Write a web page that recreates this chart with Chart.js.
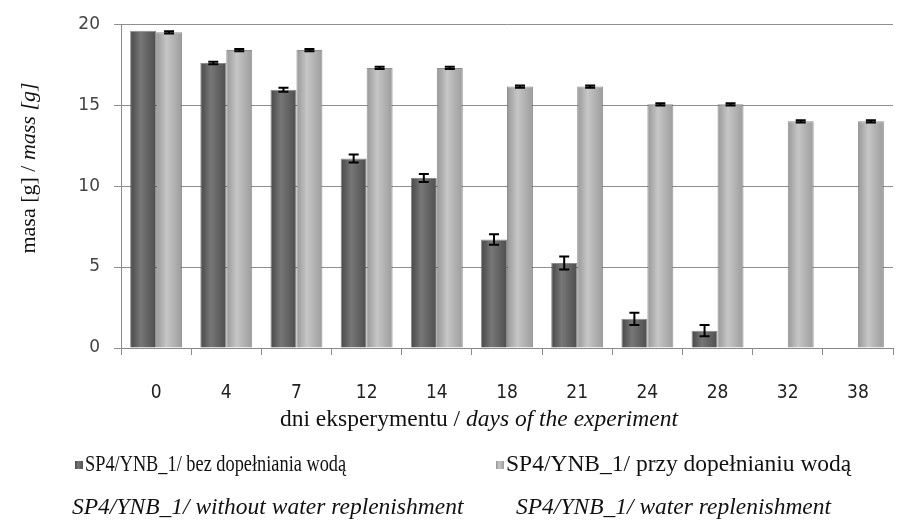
<!DOCTYPE html>
<html>
<head>
<meta charset="utf-8">
<script src="https://cdn.jsdelivr.net/npm/chart.js@4.4.1/dist/chart.umd.min.js"></script>
<style>
  html, body { margin: 0; padding: 0; background: #fff; overflow: hidden; }
  canvas { display: block; }
</style>
</head>
<body>
<canvas id="massChart" width="898" height="521"></canvas>
<script>
// days of the experiment
const days = ['0', '4', '7', '12', '14', '18', '21', '24', '28', '32', '38'];

// mass [g] without water replenishment, with error
const massNoWater = [19.6, 17.6, 15.95, 11.7, 10.5, 6.7, 5.25, 1.8, 1.07, 0, 0];
const errNoWater = [0, 0.08, 0.12, 0.25, 0.25, 0.33, 0.4, 0.38, 0.35, 0, 0];

// mass [g] with water replenishment, with error
const massWater = [19.5, 18.4, 18.4, 17.3, 17.3, 16.15, 16.15, 15.05, 15.05, 14.0, 14.0];
const errWater = [0.07, 0.07, 0.07, 0.07, 0.07, 0.07, 0.07, 0.07, 0.07, 0.07, 0.07];

const yTicks = [0, 5, 10, 15, 20];

const labelsPl = ['SP4/YNB_1/ bez dopełniania wodą', 'SP4/YNB_1/ przy dopełnianiu wodą'];
const labelsEn = ['SP4/YNB_1/ without water replenishment', 'SP4/YNB_1/ water replenishment'];

const serif = "'Liberation Serif', 'Times New Roman', serif";
const shades = [
  ['#474747', '#777777', '#4e4e4e'],
  ['#979797', '#c6c6c6', '#9c9c9c']
];

function cylinder(ctx, x0, x1, i) {
  const g = ctx.createLinearGradient(x0, 0, x1, 0);
  g.addColorStop(0, shades[i][0]);
  g.addColorStop(0.4, shades[i][1]);
  g.addColorStop(1, shades[i][2]);
  return g;
}

// horizontal shading of every bar
const shading = {
  id: 'shading',
  beforeDatasetsDraw(chart) {
    const ctx = chart.ctx;
    chart.data.datasets.forEach((ds, i) => {
      chart.getDatasetMeta(i).data.forEach(bar => {
        const { x, width } = bar.getProps(['x', 'width'], true);
        bar.options.backgroundColor = cylinder(ctx, x - width / 2, x + width / 2, i);
      });
    });
  }
};

// error bars
const errorBars = {
  id: 'errorBars',
  afterDatasetsDraw(chart) {
    const ctx = chart.ctx;
    const y = chart.scales.y;
    [errNoWater, errWater].forEach((errs, i) => {
      const ds = chart.data.datasets[i].data;
      chart.getDatasetMeta(i).data.forEach((bar, j) => {
        if (!errs[j]) return;
        const x = bar.x;
        const top = y.getPixelForValue(ds[j] + errs[j]);
        const bot = y.getPixelForValue(ds[j] - errs[j]);
        ctx.save();
        ctx.strokeStyle = '#000';
        ctx.lineWidth = 2;
        ctx.beginPath();
        ctx.moveTo(x, top); ctx.lineTo(x, bot);
        ctx.moveTo(x - 5, top); ctx.lineTo(x + 5, top);
        ctx.moveTo(x - 5, bot); ctx.lineTo(x + 5, bot);
        ctx.stroke();
        ctx.restore();
      });
    });
  }
};

// text made of runs in different styles; sx squeezes it horizontally
function drawRuns(ctx, runs, x, y, align, sx = 1) {
  let total = 0;
  runs.forEach(r => { ctx.font = r.font; total += ctx.measureText(r.text).width; });
  ctx.save();
  ctx.translate(x, y);
  ctx.scale(sx, 1);
  let cx = align === 'center' ? -total / 2 : 0;
  runs.forEach(r => {
    ctx.font = r.font;
    ctx.fillText(r.text, cx, 0);
    cx += ctx.measureText(r.text).width;
  });
  ctx.restore();
}

// axis titles and the two-line legend
const captions = {
  id: 'captions',
  afterDraw(chart) {
    const ctx = chart.ctx;
    ctx.save();
    ctx.fillStyle = '#111';
    ctx.textBaseline = 'middle';
    ctx.textAlign = 'left';

    ctx.save();
    ctx.translate(29, 168);
    ctx.rotate(-Math.PI / 2);
    drawRuns(ctx, [
      { text: 'masa [g] / ', font: '22px ' + serif },
      { text: 'mass [g]', font: 'italic 22px ' + serif }
    ], 0, 0, 'center');
    ctx.restore();

    drawRuns(ctx, [
      { text: 'dni eksperymentu / ', font: '23.5px ' + serif },
      { text: 'days of the experiment', font: 'italic 23.5px ' + serif }
    ], 479, 420, 'center');

    const legendX = [75, 496];
    const enX = [72, 516];
    const squeeze = [0.78, 1];
    for (let i = 0; i < 2; i++) {
      ctx.fillStyle = cylinder(ctx, legendX[i], legendX[i] + 8, i);
      ctx.fillRect(legendX[i], 461, 8, 8);
      ctx.fillStyle = '#111';
      drawRuns(ctx, [{ text: labelsPl[i], font: '23.5px ' + serif }], legendX[i] + 10, 465, 'left', squeeze[i]);
      drawRuns(ctx, [{ text: labelsEn[i], font: 'italic 23.5px ' + serif }], enX[i], 508, 'left');
    }
    ctx.restore();
  }
};

new Chart(document.getElementById('massChart'), {
  type: 'bar',
  data: {
    labels: days,
    datasets: [
      {
        label: labelsPl[0],
        data: massNoWater,
        backgroundColor: () => '#5e5e5e',
        borderColor: 'rgba(60,60,60,0.6)',
        borderWidth: ctx => (ctx.raw ? 1 : 0),
        categoryPercentage: 0.74,
        barPercentage: 1
      },
      {
        label: labelsPl[1],
        data: massWater,
        backgroundColor: () => '#b0b0b0',
        borderColor: 'rgba(70,70,70,0.6)',
        borderWidth: ctx => (ctx.raw ? 1 : 0),
        categoryPercentage: 0.74,
        barPercentage: 1
      }
    ]
  },
  options: {
    responsive: false,
    animation: false,
    layout: { padding: { left: 0, top: 21, right: 5, bottom: 0 } },
    plugins: {
      legend: { display: false },
      tooltip: { enabled: false }
    },
    scales: {
      x: {
        afterFit: s => { s.height = 173; },
        grid: { drawOnChartArea: false, color: '#8a8a8a', tickLength: 7, offset: true },
        border: { color: '#8a8a8a' },
        ticks: {
          color: '#222',
          padding: 27,
          font: { family: "'Liberation Sans Narrow', 'DejaVu Sans Condensed', sans-serif", size: 19 }
        }
      },
      y: {
        min: 0,
        max: 20,
        afterFit: s => { s.width = 121; },
        afterBuildTicks: s => { s.ticks = yTicks.map(v => ({ value: v })); },
        grid: { color: '#8f8f8f', tickLength: 7 },
        border: { color: '#8a8a8a' },
        ticks: {
          color: '#444',
          padding: 14,
          font: { family: "'DejaVu Sans', sans-serif", size: 17 }
        }
      }
    }
  },
  plugins: [shading, errorBars, captions]
});
</script>
</body>
</html>
